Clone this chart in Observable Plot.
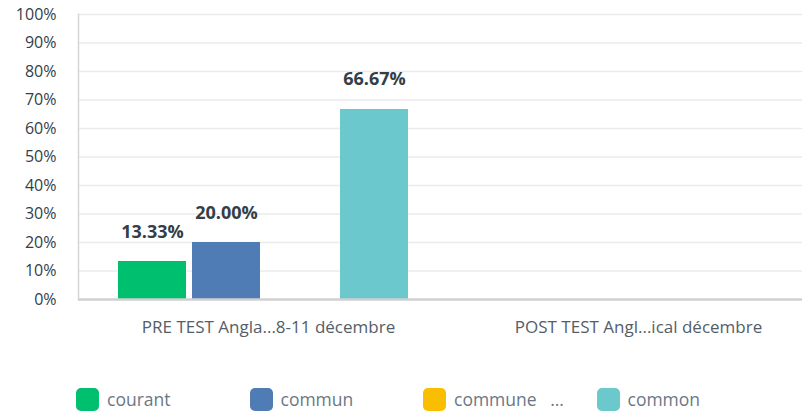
<!DOCTYPE html>
<html>
<head>
<meta charset="utf-8">
<script src="https://cdn.jsdelivr.net/npm/d3@7"></script>
<script src="https://cdn.jsdelivr.net/npm/@observablehq/plot@0.6"></script>
<style>
  html, body { margin: 0; padding: 0; background: #fff; }
  body { width: 802px; height: 413px; overflow: hidden; font-family: "Open Sans", "Noto Sans", sans-serif; }
  #legend { display: flex; padding-left: 76px; margin-top: 42px; }
  .item { width: 173.5px; display: flex; align-items: center; font-size: 17.5px; color: #6b7785; white-space: pre; }
  .sw { width: 23px; height: 23px; border-radius: 5px; margin-right: 8px; flex: none; }
</style>
</head>
<body>
<div id="chart"></div>
<div id="legend"></div>
<script>
const groups = ["PRE TEST Angla...8-11 décembre", "POST TEST Angl...ical décembre"];
const series = ["courant", "commun", "commune ", "common"];
const seriesLegend = ["courant", "commun", "commune   …", "common"];
const colors = ["#00BF6F", "#507CB6", "#F9BE00", "#6BC8CD"];
const preValues = [13.33, 20.00, 0, 66.67];
const postValues = [0, 0, 0, 0];
const yTicks = [0, 10, 20, 30, 40, 50, 60, 70, 80, 90, 100];

const data = [];
series.forEach((s, i) => {
  data.push({group: groups[0], series: s, value: preValues[i]});
  data.push({group: groups[1], series: s, value: postValues[i]});
});
const labelled = data.filter(d => d.value > 0);

const chart = Plot.plot({
  width: 802,
  height: 345,
  marginLeft: 78,
  marginRight: 0,
  marginTop: 14,
  marginBottom: 46,
  style: {fontFamily: "'Open Sans', 'Noto Sans', sans-serif", background: "#fff"},
  fx: {domain: groups, range: [78, 818], padding: 0, label: null},
  x: {domain: series, paddingInner: 0.081, paddingOuter: 0.54, axis: null},
  y: {domain: [0, 100], axis: null},
  color: {domain: series, range: colors},
  marks: [
    Plot.ruleY(yTicks.slice(1), {stroke: "#ebebeb", strokeWidth: 1.5}),
    Plot.axisY({ticks: yTicks, tickSize: 0, tickPadding: 22, tickFormat: d => d + "%", fontSize: 16, color: "#333e48", label: null, facetAnchor: "left"}),
    Plot.frame({anchor: "left", stroke: "#d5d5d5", strokeWidth: 1.5, facetAnchor: "left"}),
    Plot.barY(data, {fx: "group", x: "series", y: "value", fill: "series"}),
    Plot.text(labelled, {fx: "group", x: "series", y: "value", text: d => d.value.toFixed(2) + "%", lineAnchor: "bottom", dy: -24, fontSize: 18, fontWeight: "bold", fill: "#333e48"}),
    Plot.ruleY([0], {stroke: "#d0d0d0", strokeWidth: 2.5}),
    Plot.axisFx({anchor: "bottom", tickSize: 0, tickPadding: 21, fontSize: 17, color: "#545e68", dx: 5, label: null})
  ]
});
document.getElementById("chart").appendChild(chart);

const legend = document.getElementById("legend");
seriesLegend.forEach((s, i) => {
  const it = document.createElement("div");
  it.className = "item";
  const sw = document.createElement("div");
  sw.className = "sw";
  sw.style.background = colors[i];
  const t = document.createElement("span");
  t.textContent = s;
  it.appendChild(sw);
  it.appendChild(t);
  legend.appendChild(it);
});
</script>
</body>
</html>
